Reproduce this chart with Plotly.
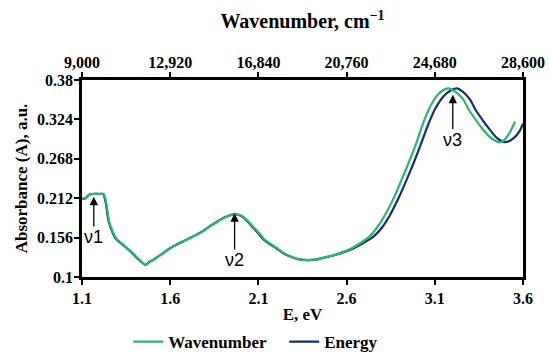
import plotly.graph_objects as go

# ---- data ----
energy_eV = [1.10, 1.12, 1.14, 1.16, 1.20, 1.22, 1.235, 1.25, 1.27, 1.29, 1.33, 1.38, 1.42, 1.46,
             1.48, 1.52, 1.56, 1.60, 1.65, 1.70, 1.77, 1.83, 1.88, 1.93, 1.97, 2.00, 2.03, 2.06,
             2.10, 2.13, 2.17, 2.20, 2.24, 2.28, 2.33, 2.38, 2.43, 2.48, 2.53, 2.58, 2.64, 2.70,
             2.75, 2.80, 2.85, 2.90, 2.94, 2.98, 3.02, 3.06, 3.10, 3.15, 3.19, 3.225, 3.26, 3.30,
             3.33, 3.36, 3.41, 3.45, 3.49, 3.52, 3.55, 3.58, 3.60]
abs_energy = [0.211, 0.212, 0.217, 0.218, 0.218, 0.218, 0.205, 0.180, 0.165, 0.155, 0.146, 0.135,
              0.125, 0.117, 0.121, 0.127, 0.134, 0.141, 0.148, 0.154, 0.163, 0.173, 0.181, 0.187,
              0.189, 0.187, 0.181, 0.173, 0.162, 0.153, 0.146, 0.141, 0.134, 0.129, 0.125, 0.124,
              0.125, 0.128, 0.131, 0.135, 0.141, 0.149, 0.157, 0.170, 0.190, 0.215, 0.238, 0.262,
              0.288, 0.315, 0.338, 0.357, 0.365, 0.368, 0.363, 0.352, 0.338, 0.327, 0.310, 0.298,
              0.292, 0.293, 0.298, 0.307, 0.318]

wavenumber_cm = [9000, 9157, 9314, 9470, 9784, 9960, 10080, 10200, 10360, 10520, 10830, 11220,
                 11530, 11840, 12000, 12310, 12620, 12940, 13330, 13720, 14270, 14740, 15135,
                 15530, 15845, 16085, 16325, 16565, 16885, 17120, 17435, 17665, 17975, 18280,
                 18665, 19050, 19435, 19820, 20195, 20560, 20986, 21413, 21759, 22105, 22500,
                 22891, 23202, 23517, 23832, 24121, 24414, 24760, 25031, 25284, 25599, 25950,
                 26185, 26420, 26811, 27157, 27480, 27650, 27801, 28023, 28245]
abs_wavenumber = [0.211, 0.212, 0.217, 0.218, 0.218, 0.218, 0.205, 0.180, 0.165, 0.155, 0.146,
                  0.135, 0.125, 0.117, 0.121, 0.127, 0.134, 0.141, 0.148, 0.154, 0.163, 0.173,
                  0.181, 0.187, 0.189, 0.187, 0.181, 0.173, 0.162, 0.153, 0.146, 0.141, 0.134,
                  0.129, 0.125, 0.124, 0.125, 0.128, 0.131, 0.135, 0.141, 0.149, 0.157, 0.170,
                  0.190, 0.215, 0.238, 0.262, 0.288, 0.315, 0.338, 0.357, 0.365, 0.368, 0.363,
                  0.352, 0.338, 0.327, 0.310, 0.298, 0.292, 0.292, 0.296, 0.306, 0.321]

x_ticks = [1.1, 1.6, 2.1, 2.6, 3.1, 3.6]
y_ticks = [0.1, 0.156, 0.212, 0.268, 0.324, 0.38]
top_ticks = [9000, 12920, 16840, 20760, 24680, 28600]

peak_labels = ["ν1", "ν2", "ν3"]
peak_E = [1.167, 1.965, 3.202]
peak_tip = [0.214, 0.1905, 0.359]
label_A = [0.157, 0.124, 0.295]

GREEN = "#2ab672"
BLUE = "#1a2d6b"
SERIF = "Liberation Serif"

fig = go.Figure()
fig.add_trace(go.Scatter(x=wavenumber_cm, y=abs_wavenumber, mode="lines",
                         name="Wavenumber\u00a0\u00a0\u00a0",
                         xaxis="x2", yaxis="y", line=dict(color=GREEN, width=2.2, shape="spline", smoothing=0.6)))
fig.add_trace(go.Scatter(x=energy_eV, y=abs_energy, mode="lines", name="Energy",
                         line=dict(color=BLUE, width=2.2, shape="spline", smoothing=0.6)))

for lbl, xe, tip, ly in zip(peak_labels, peak_E, peak_tip, label_A):
    fig.add_annotation(x=xe, y=tip, ax=xe, ay=ly, xref="x", yref="y", axref="x", ayref="y",
                       showarrow=True, arrowhead=2, arrowsize=1.3, arrowwidth=1.3,
                       arrowcolor="black", text=lbl, borderpad=0,
                       font=dict(family="Liberation Sans", size=18, color="black"))

axis_font = dict(family=SERIF, size=16, color="black", weight="bold")
title_font = dict(family=SERIF, size=17, color="black", weight="bold")

fig.update_layout(
    width=550, height=356,
    margin=dict(l=81.5, r=27, t=80, b=79),
    plot_bgcolor="white", paper_bgcolor="white",
    showlegend=True,
    legend=dict(orientation="h", x=0.394, xref="paper", y=1 - 342 / 356, yref="container",
                xanchor="center", yanchor="middle",
                font=dict(family=SERIF, size=17, color="black", weight="bold"),
                bgcolor="rgba(0,0,0,0)", itemwidth=30, tracegroupgap=0),
    xaxis=dict(range=[1.1, 3.6], tickvals=x_ticks, ticktext=[f"{v:.1f}" for v in x_ticks],
               showgrid=False, zeroline=False, showline=True, linecolor="black", linewidth=2.5,
               ticks="outside", ticklen=5, tickwidth=2, tickcolor="black", automargin=False,
               tickfont=axis_font,
               title=dict(text="E, eV", font=title_font, standoff=11)),
    xaxis2=dict(range=[9000, 28600], tickvals=top_ticks, ticktext=[f"{v:,}" for v in top_ticks],
                overlaying="x", side="top", anchor="y", automargin=False,
                showgrid=False, zeroline=False, showline=True, linecolor="black", linewidth=2.5,
                ticks="outside", ticklen=5, tickwidth=2, tickcolor="black",
                tickfont=axis_font, ticklabelstandoff=-2,
                title=dict(text="Wavenumber, cm<sup>−1</sup>", font=dict(family=SERIF, size=20, color="black", weight="bold"), standoff=20)),
    yaxis=dict(range=[0.1, 0.38], tickvals=y_ticks, ticktext=[f"{v:g}" for v in y_ticks],
               showgrid=False, zeroline=False, showline=True, linecolor="black", linewidth=2.5,
               mirror=True, automargin=False,
               ticks="outside", ticklen=5, tickwidth=2, tickcolor="black",
               tickfont=axis_font, ticklabelstandoff=-2,
               title=dict(text="Absorbance (A), a.u.", font=title_font, standoff=6)),
)

fig.write_html("out.html", config={"displayModeBar": False},
               post_script="document.body.style.margin='0';")
